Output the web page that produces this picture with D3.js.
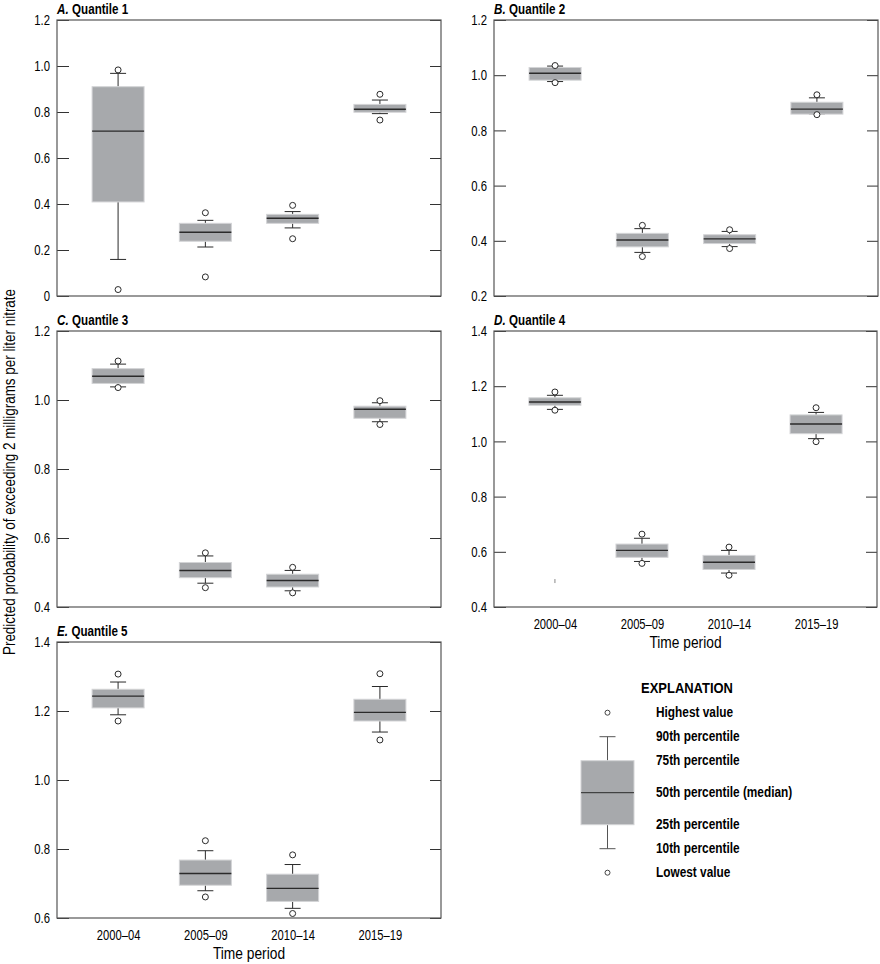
<!DOCTYPE html>
<html>
<head>
<meta charset="utf-8">
<script src="https://cdn.jsdelivr.net/npm/d3@7/dist/d3.min.js"></script>
<style>
  html, body { margin: 0; padding: 0; background: #fff; }
  svg { display: block; font-family: "Liberation Sans", Arial, sans-serif; }
</style>
</head>
<body>
<svg id="chart" width="880" height="964"></svg>
<script>
// ---------------- DATA ----------------
const periods = ["2000–04", "2005–09", "2010–14", "2015–19"];
const statKeys = ["min", "p10", "p25", "median", "p75", "p90", "max"];

// each row: [lowest, 10th, 25th, median, 75th, 90th, highest]
const quantile1 = [
  [0.028, 0.159, 0.409, 0.717, 0.910, 0.968, 0.983],
  [0.083, 0.213, 0.238, 0.277, 0.316, 0.329, 0.362],
  [0.249, 0.296, 0.316, 0.338, 0.355, 0.367, 0.394],
  [0.765, 0.793, 0.799, 0.812, 0.833, 0.852, 0.877]
];
const quantile2 = [
  [0.973, 0.977, 0.982, 1.007, 1.028, 1.033, 1.035],
  [0.343, 0.358, 0.378, 0.403, 0.427, 0.444, 0.456],
  [0.372, 0.379, 0.390, 0.407, 0.422, 0.434, 0.440],
  [0.857, 0.860, 0.859, 0.877, 0.902, 0.918, 0.929]
];
const quantile3 = [
  [1.036, 1.038, 1.048, 1.069, 1.091, 1.104, 1.113],
  [0.456, 0.469, 0.485, 0.506, 0.529, 0.548, 0.557],
  [0.441, 0.447, 0.458, 0.477, 0.495, 0.506, 0.515],
  [0.929, 0.937, 0.947, 0.973, 0.982, 0.992, 0.998]
];
const quantile4 = [
  [1.113, 1.116, 1.131, 1.143, 1.158, 1.167, 1.179],
  [0.558, 0.565, 0.580, 0.605, 0.628, 0.649, 0.664],
  [0.515, 0.523, 0.536, 0.562, 0.587, 0.605, 0.617],
  [0.999, 1.010, 1.028, 1.063, 1.096, 1.105, 1.122]
];
const quantile5 = [
  [1.171, 1.189, 1.209, 1.243, 1.263, 1.284, 1.307],
  [0.661, 0.679, 0.695, 0.729, 0.768, 0.795, 0.824],
  [0.613, 0.628, 0.648, 0.686, 0.727, 0.755, 0.783],
  [1.116, 1.139, 1.171, 1.196, 1.234, 1.271, 1.308]
];
// small stray mark visible in panel D
const quantile4Stray = [{ period: "2000–04", value: 0.494 }];

const ticksA = [0, 0.2, 0.4, 0.6, 0.8, 1.0, 1.2];
const ticksB = [0.2, 0.4, 0.6, 0.8, 1.0, 1.2];
const ticksC = [0.4, 0.6, 0.8, 1.0, 1.2];
const ticksD = [0.4, 0.6, 0.8, 1.0, 1.2, 1.4];
const ticksE = [0.6, 0.8, 1.0, 1.2, 1.4];

const panelLetters = ["A.", "B.", "C.", "D.", "E."];
const panelNames = ["Quantile 1", "Quantile 2", "Quantile 3", "Quantile 4", "Quantile 5"];

const legendLabels = ["Lowest value", "10th percentile", "25th percentile", "50th percentile (median)", "75th percentile", "90th percentile", "Highest value"];
const legendSample = [0, 0.15, 0.3, 0.5, 0.7, 0.85, 1.0];

const yLabel = "Predicted probability of exceeding 2 milligrams per liter nitrate";
const xLabel = "Time period";

// ---------------- LAYOUT ----------------
const panels = [
  { data: quantile1, ticks: ticksA, x0: 57, x1: 441, y0: 20, y1: 296, xAxis: false },
  { data: quantile2, ticks: ticksB, x0: 494, x1: 878, y0: 20, y1: 296, xAxis: false },
  { data: quantile3, ticks: ticksC, x0: 57, x1: 441, y0: 331, y1: 607, xAxis: false },
  { data: quantile4, ticks: ticksD, x0: 494, x1: 877, y0: 331, y1: 607, xAxis: true, stray: quantile4Stray },
  { data: quantile5, ticks: ticksE, x0: 57, x1: 441, y0: 642, y1: 918, xAxis: true }
];

const boxFill = "#a7a9ac", boxEdge = "#d3d4d6", ink = "#2a2a2a", frameCol = "#555";
const boxW = 52, capW = 16, rOut = 3;

const svg = d3.select("#chart");
const fmt = d => d === 0 ? "0" : d3.format(".1f")(d);

// simulate a condensed typeface by compressing glyphs horizontally
function condense(sel, factor) {
  let last = 0;
  sel.each(function () {
    const L = this.getComputedTextLength();
    last = L * factor;
    this.setAttribute("textLength", last.toFixed(2));
    this.setAttribute("lengthAdjust", "spacingAndGlyphs");
  });
  return last;
}

panels.forEach((p, i) => {
  const x = d3.scalePoint().domain(periods).range([p.x0, p.x1]).padding(0.7);
  const y = d3.scaleLinear().domain([p.ticks[0], p.ticks[p.ticks.length - 1]]).range([p.y1, p.y0]);
  const g = svg.append("g");

  // title: italic letter + bold name as two separate texts
  const tl = g.append("text").attr("x", p.x0).attr("y", p.y0 - 6)
    .attr("font-size", 14.5).attr("font-weight", "bold").attr("font-style", "italic")
    .attr("fill", "#000").text(panelLetters[i]);
  const wl = condense(tl, 0.8);
  const tn = g.append("text").attr("x", p.x0 + wl + 3.5).attr("y", p.y0 - 6)
    .attr("font-size", 14.5).attr("font-weight", "bold").attr("fill", "#000").text(panelNames[i]);
  condense(tn, 0.8);

  // axes
  const left = g.append("g").attr("transform", `translate(${p.x0},0)`)
    .call(d3.axisLeft(y).tickValues(p.ticks).tickFormat(fmt).tickSizeInner(-12).tickSizeOuter(0).tickPadding(7));
  left.select(".domain").remove();
  left.selectAll(".tick line").attr("stroke", "#333");
  left.selectAll(".tick text").attr("font-size", 14.5).attr("fill", "#000")
    .attr("font-family", "inherit");
  condense(left.selectAll(".tick text"), 0.78);

  const right = g.append("g").attr("transform", `translate(${p.x1},0)`)
    .call(d3.axisRight(y).tickValues(p.ticks).tickFormat("").tickSizeInner(-11).tickSizeOuter(0));
  right.select(".domain").remove();
  right.selectAll(".tick line").attr("stroke", "#333");

  if (p.xAxis) {
    const bottom = g.append("g").attr("transform", `translate(0,${p.y1})`)
      .call(d3.axisBottom(x).tickSize(0).tickPadding(12));
    bottom.select(".domain").remove();
    bottom.selectAll(".tick text").attr("font-size", 14).attr("fill", "#000")
      .attr("font-family", "inherit");
    condense(bottom.selectAll(".tick text"), 0.8);
    const xl = g.append("text").attr("x", (p.x0 + p.x1) / 2).attr("y", p.y1 + 41)
      .attr("text-anchor", "middle").attr("font-size", 17).attr("fill", "#000").text(xLabel);
    condense(xl, 0.81);
  }

  // boxes
  const rows = p.data.map((r, j) => {
    const o = { period: periods[j] };
    statKeys.forEach((k, m) => o[k] = r[m]);
    return o;
  });
  const bx = g.selectAll("g.box").data(rows).join("g").attr("class", "box")
    .attr("transform", d => `translate(${x(d.period)},0)`);

  // whiskers
  bx.append("line").attr("x1", 0).attr("x2", 0)
    .attr("y1", d => y(d.p75)).attr("y2", d => y(d.p90)).attr("stroke", ink).attr("stroke-width", 1);
  bx.append("line").attr("x1", 0).attr("x2", 0)
    .attr("y1", d => y(d.p25)).attr("y2", d => y(d.p10)).attr("stroke", ink).attr("stroke-width", 1);
  bx.append("line").attr("x1", -capW / 2).attr("x2", capW / 2)
    .attr("y1", d => y(d.p90)).attr("y2", d => y(d.p90)).attr("stroke", ink).attr("stroke-width", 1);
  bx.append("line").attr("x1", -capW / 2).attr("x2", capW / 2)
    .attr("y1", d => y(d.p10)).attr("y2", d => y(d.p10)).attr("stroke", ink).attr("stroke-width", 1);

  // box
  bx.append("rect").attr("x", -boxW / 2).attr("width", boxW)
    .attr("y", d => y(d.p75)).attr("height", d => Math.max(1, y(d.p25) - y(d.p75)))
    .attr("fill", boxFill).attr("stroke", boxEdge).attr("stroke-width", 1);
  bx.append("line").attr("x1", -boxW / 2).attr("x2", boxW / 2)
    .attr("y1", d => y(d.median)).attr("y2", d => y(d.median)).attr("stroke", ink).attr("stroke-width", 1.4);

  // outliers (highest / lowest)
  bx.append("circle").attr("cx", 0).attr("cy", d => y(d.max)).attr("r", rOut)
    .attr("fill", "#fff").attr("stroke", ink).attr("stroke-width", 1);
  bx.append("circle").attr("cx", 0).attr("cy", d => y(d.min)).attr("r", rOut)
    .attr("fill", "#fff").attr("stroke", ink).attr("stroke-width", 1);

  if (p.stray) {
    g.selectAll("line.stray").data(p.stray).join("line").attr("class", "stray")
      .attr("x1", d => x(d.period)).attr("x2", d => x(d.period))
      .attr("y1", d => y(d.value) - 2).attr("y2", d => y(d.value) + 2)
      .attr("stroke", "#888").attr("stroke-width", 1);
  }

  // frame
  g.append("rect").attr("x", p.x0).attr("y", p.y0)
    .attr("width", p.x1 - p.x0).attr("height", p.y1 - p.y0)
    .attr("fill", "none").attr("stroke", frameCol).attr("stroke-width", 1.2);
});

// y-axis label
svg.append("text").attr("transform", "translate(15,472) rotate(-90)")
  .attr("text-anchor", "middle").attr("font-size", 17).attr("fill", "#000")
  .attr("textLength", 366).attr("lengthAdjust", "spacingAndGlyphs").text(yLabel);

// ---------------- LEGEND ----------------
const lg = svg.append("g");
const ly = d3.scaleLinear().domain([0, 1]).range([872.7, 712.7]);
const lx = 607.5, lw = 53;
const ls = {};
statKeys.forEach((k, m) => ls[k] = legendSample[m]);

const ex = lg.append("text").attr("x", 687).attr("y", 692.5).attr("text-anchor", "middle")
  .attr("font-size", 15.5).attr("font-weight", "bold").attr("fill", "#000").text("EXPLANATION");
condense(ex, 0.835);

lg.append("line").attr("x1", lx).attr("x2", lx).attr("y1", ly(ls.p75)).attr("y2", ly(ls.p90)).attr("stroke", "#555");
lg.append("line").attr("x1", lx).attr("x2", lx).attr("y1", ly(ls.p25)).attr("y2", ly(ls.p10)).attr("stroke", "#555");
lg.append("line").attr("x1", lx - capW / 2).attr("x2", lx + capW / 2).attr("y1", ly(ls.p90)).attr("y2", ly(ls.p90)).attr("stroke", "#555");
lg.append("line").attr("x1", lx - capW / 2).attr("x2", lx + capW / 2).attr("y1", ly(ls.p10)).attr("y2", ly(ls.p10)).attr("stroke", "#555");
lg.append("rect").attr("x", lx - lw / 2).attr("width", lw).attr("y", ly(ls.p75)).attr("height", ly(ls.p25) - ly(ls.p75))
  .attr("fill", boxFill).attr("stroke", boxEdge);
lg.append("line").attr("x1", lx - lw / 2).attr("x2", lx + lw / 2).attr("y1", ly(ls.median)).attr("y2", ly(ls.median)).attr("stroke", ink);
lg.append("circle").attr("cx", lx).attr("cy", ly(ls.max)).attr("r", 2.5).attr("fill", "#fff").attr("stroke", "#444");
lg.append("circle").attr("cx", lx).attr("cy", ly(ls.min)).attr("r", 2.5).attr("fill", "#fff").attr("stroke", "#444");

const labs = lg.selectAll("text.lab").data(legendLabels.map((l, m) => ({ label: l, v: legendSample[m] })))
  .join("text").attr("class", "lab")
  .attr("x", 656).attr("y", d => ly(d.v) + 4.5)
  .attr("font-size", 14).attr("font-weight", "bold").attr("fill", "#000").text(d => d.label);
condense(labs, 0.846);
</script>
</body>
</html>
